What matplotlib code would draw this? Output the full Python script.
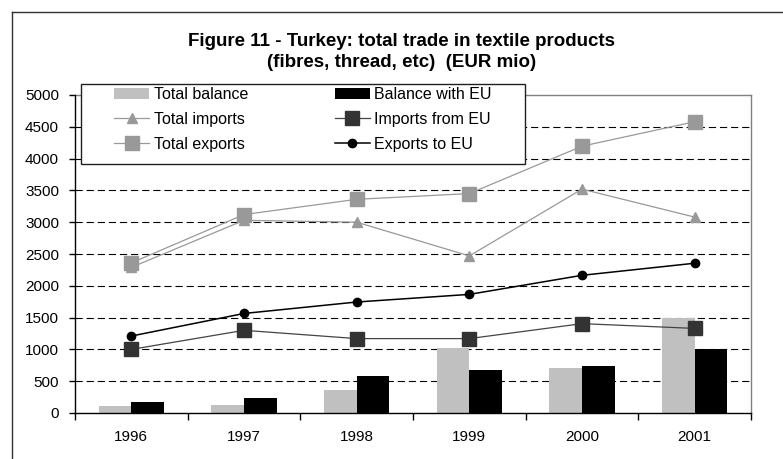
import matplotlib
matplotlib.use("Agg")
import matplotlib.pyplot as plt
import numpy as np
from matplotlib.lines import Line2D
from matplotlib.patches import Rectangle

plt.rcParams['font.family'] = ['Liberation Sans', 'DejaVu Sans']

# ---- data (EUR mio) ----
years = ['1996', '1997', '1998', '1999', '2000', '2001']
total_balance = [105, 120, 355, 1015, 705, 1500]
balance_eu = [178, 242, 585, 680, 740, 1010]
total_imports = [2290, 3030, 3000, 2470, 3520, 3080]
imports_eu = [1000, 1300, 1170, 1170, 1405, 1330]
total_exports = [2360, 3120, 3360, 3450, 4195, 4580]
exports_eu = [1210, 1565, 1745, 1865, 2165, 2355]
y_ticks = list(range(0, 5001, 500))

W, H = 783, 459
fig = plt.figure(figsize=(W / 100, H / 100), dpi=100)
fig.patch.set_facecolor('white')

# outer chart border (left and top edges visible)
fig.add_artist(Line2D([12 / W, 12 / W], [1 - 12 / H, -0.05], transform=fig.transFigure,
                      color='#303030', lw=1.0))
fig.add_artist(Line2D([12 / W, 1.05], [1 - 12 / H, 1 - 12 / H], transform=fig.transFigure,
                      color='#303030', lw=1.0))

fig.text(402 / W, 1 - 52 / H,
         'Figure 11 - Turkey: total trade in textile products\n(fibres, thread, etc)  (EUR mio)',
         ha='center', va='center', fontsize=13.5, fontweight='bold', linespacing=1.3)

ax = fig.add_axes([75 / W, 46 / H, (751 - 75) / W, (413 - 95) / H])
x = np.arange(len(years))
bw = 0.29

ax.bar(x - bw / 2, total_balance, width=bw, color='#C0C0C0', zorder=2, label='Total balance')
ax.bar(x + bw / 2, balance_eu, width=bw, color='#000000', zorder=2, label='Balance with EU')

ax.plot(x, total_imports, color='#999999', lw=0.9, marker='^', ms=6.5, mfc='#999999',
        mec='#999999', zorder=3, label='Total imports')
ax.plot(x, imports_eu, color='#444444', lw=0.9, marker='s', ms=9.5, mfc='#333333',
        mec='#333333', zorder=3, label='Imports from EU')
ax.plot(x, total_exports, color='#999999', lw=0.9, marker='s', ms=10, mfc='#999999',
        mec='#999999', zorder=3, label='Total exports')
ax.plot(x, exports_eu, color='#000000', lw=1.1, marker='o', ms=6, mfc='#000000',
        mec='#000000', zorder=3, label='Exports to EU')

ax.set_xlim(-0.5, len(years) - 0.5)
ax.set_ylim(0, 5000)
ax.set_yticks(y_ticks)
ax.set_yticklabels([str(v) for v in y_ticks])
ax.set_xticks(x)
ax.set_xticklabels(years)
ax.set_xticks(np.arange(-0.5, len(years), 1.0), minor=True)
ax.tick_params(axis='x', which='major', length=0, pad=12, labelsize=11)
ax.tick_params(axis='x', which='minor', length=5, width=1, direction='out', color='black')
ax.tick_params(axis='y', length=4.5, width=1, direction='out', pad=7, labelsize=11,
               color='black')

for v in y_ticks[1:-1]:
    ax.axhline(v, color='black', lw=0.8, dashes=(6.5, 3.5), zorder=1)

ax.spines['left'].set_color('black')
ax.spines['bottom'].set_color('black')
ax.spines['left'].set_linewidth(1.0)
ax.spines['bottom'].set_linewidth(1.0)
ax.spines['top'].set_color('#808080')
ax.spines['right'].set_color('#808080')
ax.spines['top'].set_linewidth(1.0)
ax.spines['right'].set_linewidth(1.0)
ax.spines['left'].set_zorder(4)
ax.spines['bottom'].set_zorder(4)

# legend box
box = Rectangle((81 / W, 1 - 164 / H), (525 - 81) / W, (164 - 84) / H,
                transform=fig.transFigure, facecolor='white', edgecolor='#202020',
                lw=1.0, zorder=4.5, clip_on=False)
ax.add_artist(box)

handles, labels = ax.get_legend_handles_labels()
order = ['Total balance', 'Total imports', 'Total exports',
         'Balance with EU', 'Imports from EU', 'Exports to EU']
hmap = dict(zip(labels, handles))
leg = ax.legend([hmap[k] for k in order], order, ncol=2, frameon=False,
                loc='upper left', bbox_to_anchor=(114 / W, 1 - 87 / H),
                bbox_transform=fig.transFigure, borderpad=0, borderaxespad=0,
                handlelength=2.2, handletextpad=0.3, columnspacing=5.4,
                labelspacing=0.62, fontsize=11.5)
leg.set_zorder(5)

fig.savefig('out.png', dpi=100, facecolor='white')
